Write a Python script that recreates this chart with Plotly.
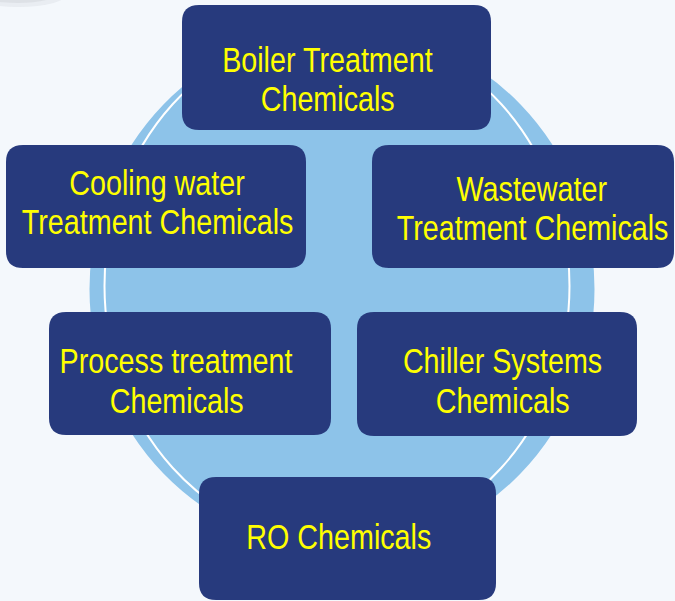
import plotly.graph_objects as go

# ---- content ----
line1 = ["Boiler Treatment", "Cooling water", "Wastewater", "Process treatment",
         "Chiller Systems", "RO Chemicals"]
line2 = ["Chemicals", "Treatment Chemicals", "Treatment Chemicals", "Chemicals",
         "Chemicals", ""]

# ---- layout (pixel coordinates, y downward) ----
box_x0 = [182, 6, 372, 49, 357, 199]
box_x1 = [491, 306, 674, 331, 637, 496]
box_y0 = [5, 145, 145, 312, 312, 477]
box_y1 = [130, 268, 268, 435, 436, 600]
text_x = [327, 157, 532, 176, 502, 339]
text_y1 = [59, 182, 188, 360, 360, 536]
text_y2 = [98, 221, 227, 400, 400, None]

W, H = 675, 601
BG = "#f4f8fc"
NAVY = "#273a7d"
LIGHT = "#8dc3e9"
YELLOW = "#ffff00"
FONT = "Liberation Sans Narrow, Arial Narrow, Liberation Sans, Arial, sans-serif"


def rrect(x0, y0, x1, y1, r):
    return (f"M {x0+r},{y0} L {x1-r},{y0} Q {x1},{y0} {x1},{y0+r} "
            f"L {x1},{y1-r} Q {x1},{y1} {x1-r},{y1} L {x0+r},{y1} "
            f"Q {x0},{y1} {x0},{y1-r} L {x0},{y0+r} Q {x0},{y0} {x0+r},{y0} Z")


shapes = []
# soft grey shadow at top-left
for rx, ry, op in [(50, 14, 0.25), (40, 10, 0.35), (30, 7, 0.45)]:
    shapes.append(dict(type="circle", xref="x", yref="y",
                       x0=18 - rx, x1=18 + rx, y0=-7 - ry, y1=-7 + ry,
                       fillcolor="#c9ccd2", opacity=op, line=dict(width=0), layer="below"))
# big light-blue ellipse
shapes.append(dict(type="circle", xref="x", yref="y", x0=89.5, x1=594.5, y0=28, y1=550,
                   fillcolor=LIGHT, line=dict(width=0), layer="below"))
# thin white ring
shapes.append(dict(type="circle", xref="x", yref="y", x0=104.5, x1=569.5, y0=29, y1=543,
                   fillcolor="rgba(0,0,0,0)", line=dict(color="white", width=2), layer="below"))
# boxes
for i in range(len(line1)):
    shapes.append(dict(type="path", xref="x", yref="y",
                       path=rrect(box_x0[i], box_y0[i], box_x1[i], box_y1[i], 17),
                       fillcolor=NAVY, line=dict(width=0), layer="above"))

annotations = []
for i in range(len(line1)):
    annotations.append(dict(x=text_x[i], y=text_y1[i], xref="x", yref="y",
                            text=line1[i], showarrow=False, xanchor="center", yanchor="middle",
                            font=dict(family=FONT, size=35, color=YELLOW)))
    if line2[i]:
        annotations.append(dict(x=text_x[i], y=text_y2[i], xref="x", yref="y",
                                text=line2[i], showarrow=False, xanchor="center", yanchor="middle",
                                font=dict(family=FONT, size=35, color=YELLOW)))

fig = go.Figure()
fig.add_trace(go.Scatter(x=[0, W], y=[0, H], mode="markers", marker=dict(opacity=0),
                         hoverinfo="skip", showlegend=False))
fig.update_layout(
    width=W, height=H, margin=dict(l=0, r=0, t=0, b=0),
    paper_bgcolor=BG, plot_bgcolor=BG,
    xaxis=dict(range=[0, W], visible=False, fixedrange=True),
    yaxis=dict(range=[H, 0], visible=False, fixedrange=True),
    shapes=shapes, annotations=annotations, showlegend=False,
)

css = ("body{margin:0;padding:0;overflow:hidden;background:" + BG + ";}"
       ".annotation-text{transform-box:fill-box;transform-origin:center;"
       "transform:scaleX(0.82);}")
post = ("var s=document.createElement('style');s.textContent='" + css + "';"
        "document.head.appendChild(s);")
fig.write_html("out.html", config={"displayModeBar": False}, post_script=post)
